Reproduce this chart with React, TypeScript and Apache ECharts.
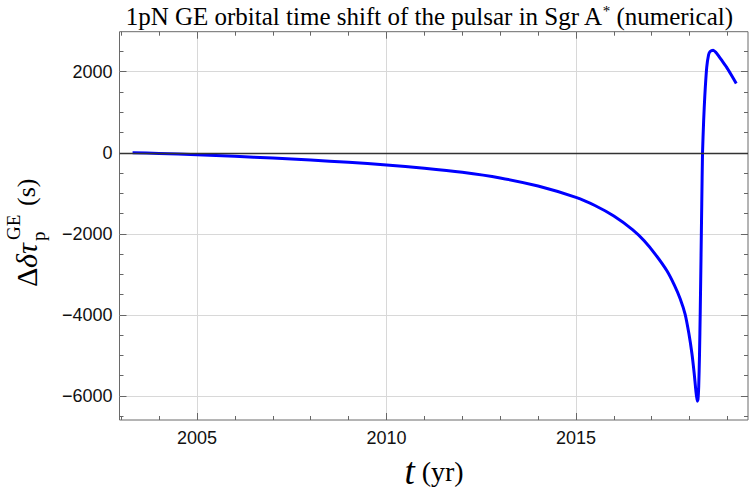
import React, { useEffect, useRef } from 'react';
import * as echarts from 'echarts';

const years = [2003.3, 2004, 2005, 2006, 2007, 2008, 2009, 2010, 2011, 2012, 2013, 2014, 2015, 2015.5, 2016, 2016.5, 2016.8, 2017.1, 2017.4, 2017.6, 2017.75, 2017.88, 2017.98, 2018.06, 2018.12, 2018.16, 2018.2, 2018.22, 2018.24, 2018.26, 2018.28, 2018.3, 2018.32, 2018.34, 2018.37, 2018.4, 2018.45, 2018.5, 2018.54, 2018.62, 2018.7, 2018.75, 2018.85, 2018.97, 2019.1, 2019.23];
const shift = [0, -15, -45, -85, -130, -180, -235, -300, -380, -480, -620, -820, -1100, -1300, -1560, -1900, -2170, -2510, -2910, -3270, -3600, -3980, -4460, -4950, -5440, -5830, -6130, -6080, -5750, -5000, -3900, -2600, -1250, 0, 800, 1400, 2100, 2420, 2500, 2533, 2470, 2410, 2280, 2121, 1920, 1711];

const xMajorTicks = [2005, 2010, 2015];
const xMinorTicks = [2003, 2004, 2006, 2007, 2008, 2009, 2011, 2012, 2013, 2014, 2016, 2017, 2018, 2019];
const yMajorTicks = [-6000, -4000, -2000, 0, 2000];
const yMinorTicks = [-6500, -5500, -5000, -4500, -3500, -3000, -2500, -1500, -1000, -500, 500, 1000, 1500, 2500];

const titleText = '1pN GE orbital time shift of the pulsar in Sgr A';

const X_MIN = 2002.955;
const X_MAX = 2019.54;
const Y_MIN = -6592;
const Y_MAX = 2988;

const TICK_COLOR = '#666';
const GRID_COLOR = '#d8d8d8';
const LABEL_FONT = 'Liberation Sans';
const SERIF = 'Liberation Serif';

function xAxisDef(position: 'top' | 'bottom', major: boolean, labels: boolean) {
  return {
    type: 'value',
    position,
    min: X_MIN,
    max: X_MAX,
    axisLine: { show: false, onZero: false },
    axisTick: {
      show: true,
      inside: true,
      length: major ? 7 : 4,
      lineStyle: { color: TICK_COLOR, width: 1 },
      customValues: major ? xMajorTicks : xMinorTicks,
    },
    axisLabel: labels
      ? {
          show: true,
          customValues: xMajorTicks,
          fontFamily: LABEL_FONT,
          fontSize: 18,
          color: '#111',
          margin: 9,
          formatter: (v: number) => String(Math.round(v)),
        }
      : { show: false },
    splitLine: labels
      ? { show: true, lineStyle: { color: GRID_COLOR, width: 1 } }
      : { show: false },
  };
}

function yAxisDef(position: 'left' | 'right', major: boolean, labels: boolean) {
  return {
    type: 'value',
    position,
    min: Y_MIN,
    max: Y_MAX,
    axisLine: { show: false, onZero: false },
    axisTick: {
      show: true,
      inside: true,
      length: major ? 7 : 4,
      lineStyle: { color: TICK_COLOR, width: 1 },
      customValues: major ? yMajorTicks : yMinorTicks,
    },
    axisLabel: labels
      ? {
          show: true,
          customValues: yMajorTicks,
          fontFamily: LABEL_FONT,
          fontSize: 18,
          color: '#111',
          margin: 7,
          formatter: (v: number) => String(Math.round(v)).replace('-', '\u2212'),
        }
      : { show: false },
    splitLine: labels
      ? { show: true, lineStyle: { color: GRID_COLOR, width: 1 } }
      : { show: false },
  };
}

export default function App() {
  const ref = useRef<HTMLDivElement>(null);

  useEffect(() => {
    if (!ref.current) return;
    const chart = echarts.init(ref.current, undefined, { renderer: 'svg' });
    const data = years.map((y, i) => [y, shift[i]]);

    chart.setOption({
      animation: false,
      backgroundColor: '#ffffff',
      grid: {
        left: 119.5,
        right: 2,
        top: 31.7,
        bottom: 76,
        show: true,
        borderColor: '#6a6a6a',
        borderWidth: 1,
        backgroundColor: 'transparent',
      },
      xAxis: [
        xAxisDef('bottom', true, true),
        xAxisDef('bottom', false, false),
        xAxisDef('top', true, false),
        xAxisDef('top', false, false),
      ],
      yAxis: [
        yAxisDef('left', true, true),
        yAxisDef('left', false, false),
        yAxisDef('right', true, false),
        yAxisDef('right', false, false),
      ],
      series: [
        {
          type: 'line',
          data: [],
          z: 1,
          silent: true,
          markLine: {
            silent: true,
            symbol: ['none', 'none'],
            label: { show: false },
            lineStyle: { color: '#333', width: 1.4, type: 'solid' },
            data: [{ yAxis: 0 }],
          },
        },
        {
          type: 'line',
          data,
          z: 3,
          showSymbol: false,
          smooth: 0.2,
          lineStyle: { color: '#0000ff', width: 3 },
          itemStyle: { color: '#0000ff' },
        },
      ],
      graphic: [
        {
          type: 'text',
          x: 429,
          y: 16,
          style: {
            text: titleText + '{sup|*} (numerical)',
            font: `25px "${SERIF}"`,
            fill: '#000',
            align: 'center',
            verticalAlign: 'middle',
            rich: {
              sup: { fontSize: 15, fontFamily: SERIF, verticalAlign: 'top', padding: [0, 0, 10, 0] },
            },
          },
        },
        {
          type: 'text',
          x: 434,
          y: 471,
          style: {
            text: '{t|t}{u| (yr)}',
            fill: '#000',
            align: 'center',
            verticalAlign: 'middle',
            rich: {
              t: { fontSize: 37, fontFamily: SERIF, fontStyle: 'italic', fill: '#000' },
              u: { fontSize: 28, fontFamily: SERIF, fill: '#000' },
            },
          },
        },
        {
          type: 'group',
          x: 26,
          y: 287,
          rotation: Math.PI / 2,
          children: [
            {
              type: 'text',
              x: 0,
              y: 0,
              style: { text: '\u0394', font: `30px "${SERIF}"`, fill: '#000', align: 'left', verticalAlign: 'middle' },
            },
            {
              type: 'text',
              x: 19,
              y: 0,
              style: { text: '\u03b4\u03c4', font: `italic 30px "${SERIF}"`, fill: '#000', align: 'left', verticalAlign: 'middle' },
            },
            {
              type: 'text',
              x: 47,
              y: -13,
              style: { text: 'GE', font: `19px "${SERIF}"`, fill: '#000', align: 'left', verticalAlign: 'middle' },
            },
            {
              type: 'text',
              x: 46,
              y: 12,
              style: { text: 'p', font: `19px "${SERIF}"`, fill: '#000', align: 'left', verticalAlign: 'middle' },
            },
            {
              type: 'text',
              x: 81,
              y: 0,
              style: { text: '(s)', font: `26px "${SERIF}"`, fill: '#000', align: 'left', verticalAlign: 'middle' },
            },
          ],
        },
      ],
    });

    return () => chart.dispose();
  }, []);

  return <div ref={ref} style={{ width: 750, height: 496, position: 'absolute', left: 0, top: 0 }} />;
}
